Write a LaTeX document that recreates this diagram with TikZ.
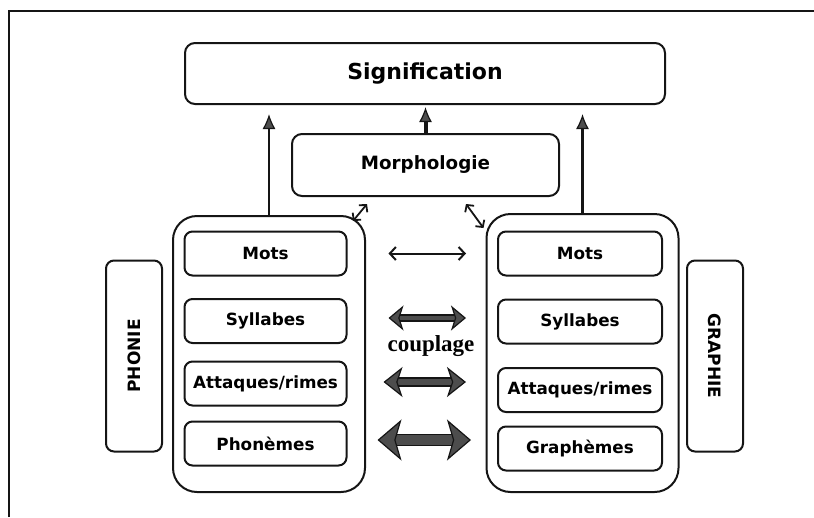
\documentclass[tikz,border=0pt]{standalone}
\usepackage{fontspec}
\setmainfont{DejaVu Sans}
\newfontfamily\couplingfont{Liberation Serif}
\definecolor{InkBlack}{HTML}{151515}
\definecolor{ArrowGray}{HTML}{4D4D4D}
\usetikzlibrary{arrows.meta, positioning, calc}
\tikzset{
  % Box styles
  titlebox/.style={rectangle, rounded corners=10pt, draw=InkBlack, line width=2pt, minimum width=480pt, minimum height=61pt, font={\fontsize{22pt}{24pt}\selectfont\bfseries}, align=center},
  morphbox/.style={rectangle, rounded corners=10pt, draw=InkBlack, line width=2pt, minimum width=267pt, minimum height=62pt, font={\fontsize{18.3pt}{20pt}\selectfont\bfseries}, align=center},
  columnbox/.style={rectangle, rounded corners=24pt, draw=InkBlack, line width=2pt, minimum width=192pt, minimum height=276pt},
  unitbox/.style={rectangle, rounded corners=8pt, draw=InkBlack, line width=2pt, minimum width=162pt, minimum height=44pt, font={\fontsize{16.8pt}{18pt}\selectfont\bfseries}, align=center},
  sidebox/.style={rectangle, rounded corners=8pt, draw=InkBlack, line width=2pt, minimum width=191pt, minimum height=56pt, font={\fontsize{17pt}{18pt}\selectfont\bfseries}},
  % Arrow styles
  uparrow/.style={InkBlack, line width=2.6pt, -{Latex[length=15pt, width=13pt, fill=ArrowGray, line width=1.2pt]}, shorten >=9pt},
  linkarrow/.style={InkBlack, line width=1.8pt, {Straight Barb[length=5pt, width=11pt]}-{Straight Barb[length=5pt, width=11pt]}},
  couplethin/.style={InkBlack, line width=2pt, {Straight Barb[length=6pt, width=13pt]}-{Straight Barb[length=6pt, width=13pt]}},
  couplemid/.style={draw=InkBlack, line width=1.3pt, double=ArrowGray, double distance=4.5pt, {Stealth[length=15pt, width=25pt, inset=4pt, fill=ArrowGray, line width=1.2pt]}-{Stealth[length=15pt, width=25pt, inset=4pt, fill=ArrowGray, line width=1.2pt]}},
  couplewide/.style={draw=InkBlack, line width=1.3pt, double=ArrowGray, double distance=6.5pt, {Stealth[length=19pt, width=30pt, inset=5pt, fill=ArrowGray, line width=1.2pt]}-{Stealth[length=19pt, width=30pt, inset=5pt, fill=ArrowGray, line width=1.2pt]}},
  couplebold/.style={draw=InkBlack, line width=1.3pt, double=ArrowGray, double distance=9.5pt, {Stealth[length=24pt, width=41pt, inset=6pt, fill=ArrowGray, line width=1.2pt]}-{Stealth[length=24pt, width=41pt, inset=6pt, fill=ArrowGray, line width=1.2pt]}}
}
\begin{document}
\begin{tikzpicture}[x=1pt, y=-1pt]
  \useasboundingbox (0,0) rectangle (814,517);
  % Frame
  \draw[InkBlack, line width=2pt] (9,517) -- (9,11) -- (814,11);

  % Top levels
  \node[titlebox] (sig) at (425,73.5) {Signification};
  \node[morphbox] (morph) at (425.5,165) {Morphologie};

  % Columns
  \node[columnbox] (lcol) at (269,354) {};
  \node[columnbox, minimum height=278pt] (rcol) at (582.5,353) {};

  % Phonie units
  \node[unitbox] (lmots) at (265.5,253.5) {Mots};
  \node[unitbox] (lsyl) at (265.5,321) {Syllabes};
  \node[unitbox] (latt) at (265.5,383.5) {Attaques/rimes};
  \node[unitbox] (lphon) at (265.5,443.5) {Phonèmes};

  % Graphie units
  \node[unitbox, minimum width=164pt] (rmots) at (580,253.5) {Mots};
  \node[unitbox, minimum width=164pt] (rsyl) at (580,321.5) {Syllabes};
  \node[unitbox, minimum width=164pt] (ratt) at (580,390) {Attaques/rimes};
  \node[unitbox, minimum width=164pt] (rgraph) at (580,448.5) {Graphèmes};

  % Side labels
  \node[sidebox, rotate=90] (phonie) at (134,356) {PHONIE};
  \node[sidebox, rotate=-90] (graphie) at (715,356) {GRAPHIE};
  \node[font={\couplingfont\fontsize{23pt}{26pt}\selectfont\bfseries}, inner sep=0pt] (couple) at (431,346) {couplage};

  % Arrows up
  \draw[uparrow] (lcol.north) -- (lcol.north |- sig.south);
  \draw[uparrow, line width=4pt, shorten >=2pt] (morph.north) -- (morph.north |- sig.south);
  \draw[uparrow] (rcol.north) -- (rcol.north |- sig.south);
  \draw[linkarrow] ($(lcol.north east)+(-13,6)$) -- ($(morph.south west)+(76,7)$);
  \draw[linkarrow] ($(rcol.north west)+(-2,15)$) -- ($(morph.south east)+(-94,7)$);

  % Coupling arrows
  \draw[couplethin, shorten <=41pt, shorten >=31pt] (lmots) -- (rmots);
  \draw[couplemid, shorten <=41pt, shorten >=31pt] ($(lsyl.east)+(0,-3)$) -- ($(lsyl.east -| rsyl.west)+(0,-3)$);
  \draw[couplewide, shorten <=36pt, shorten >=31pt] ($(latt.east)+(0,-1.5)$) -- ($(latt.east -| ratt.west)+(0,-1.5)$);
  \draw[couplebold, shorten <=30pt, shorten >=26pt] ($(lphon.east)+(0,-3.5)$) -- ($(lphon.east -| rgraph.west)+(0,-3.5)$);
\end{tikzpicture}
\end{document}
